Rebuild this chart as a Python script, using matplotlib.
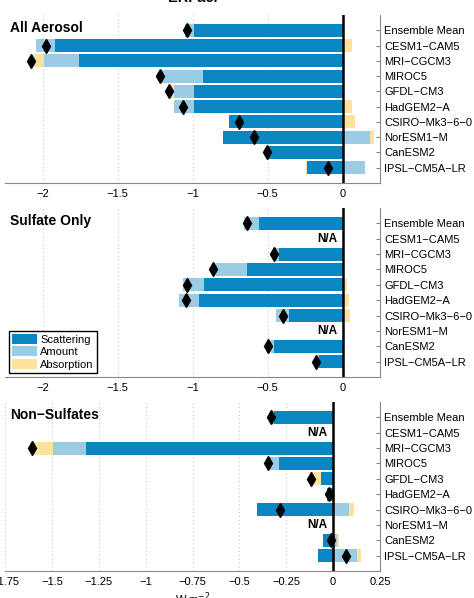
import numpy as np
import matplotlib
matplotlib.use("Agg")
import matplotlib.pyplot as plt
from matplotlib.patches import Patch

plt.rcParams['font.family'] = ['Liberation Sans', 'DejaVu Sans']

models = ['Ensemble Mean', 'CESM1−CAM5', 'MRI−CGCM3', 'MIROC5', 'GFDL−CM3',
          'HadGEM2−A', 'CSIRO−Mk3−6−0', 'NorESM1−M', 'CanESM2', 'IPSL−CM5A−LR']
components = ['Scattering', 'Amount', 'Absorption']
nan = np.nan

# All Aerosol
all_scat = [-0.99, -1.92, -1.76, -0.93, -0.99, -0.99, -0.76, -0.80, -0.505, -0.235]
all_amt = [-0.06, -0.12, -0.23, -0.28, -0.13, -0.13, 0.0, 0.18, 0.0, 0.148]
all_abs = [0.01, 0.064, -0.066, -0.01, -0.026, 0.06, 0.08, 0.03, 0.01, -0.01]
all_tot = [-1.04, -1.975, -2.08, -1.22, -1.155, -1.065, -0.69, -0.59, -0.505, -0.095]

# Sulfate Only
sul_scat = [-0.56, nan, -0.423, -0.638, -0.921, -0.959, -0.354, nan, -0.456, -0.155]
sul_amt = [-0.10, nan, -0.038, -0.204, -0.142, -0.128, -0.089, nan, -0.02, -0.01]
sul_abs = [0.015, nan, 0.01, -0.011, 0.027, 0.044, 0.049, nan, -0.015, -0.01]
sul_tot = [-0.638, nan, -0.456, -0.866, -1.04, -1.045, -0.399, nan, -0.494, -0.177]

# Non-Sulfates
non_scat = [-0.315, nan, -1.32, -0.287, -0.066, -0.035, -0.404, nan, -0.052, -0.082]
non_amt = [-0.015, nan, -0.175, -0.068, 0.0, 0.0, 0.083, nan, 0.021, 0.126]
non_abs = [0.005, nan, -0.113, 0.005, -0.06, 0.012, 0.03, nan, 0.009, 0.023]
non_tot = [-0.329, nan, -1.605, -0.35, -0.119, -0.022, -0.285, nan, -0.014, 0.07]

panel_titles = ['All Aerosol', 'Sulfate Only', 'Non−Sulfates']
ticks_12 = [-2, -1.5, -1, -0.5, 0]
ticklabels_12 = ['−2', '−1.5', '−1', '−0.5', '0']
ticks_3 = [-1.75, -1.5, -1.25, -1, -0.75, -0.5, -0.25, 0, 0.25]
ticklabels_3 = ['−1.75', '−1.5', '−1.25', '−1', '−0.75', '−0.5', '−0.25', '0', '0.25']

colors = ['#0A87C3', '#9CCBE4', '#FDE29E']

fig = plt.figure(figsize=(4.74, 5.98), dpi=100)
L, R = 5 / 474, 380 / 474
boxes = [(15, 183), (208, 377), (402, 571)]
axes = []
for (t, b) in boxes:
    axes.append(fig.add_axes([L, 1 - b / 598, R - L, (b - t) / 598]))

panels = [
    (all_scat, all_amt, all_abs, all_tot, (-2.25, 0.25), ticks_12, ticklabels_12),
    (sul_scat, sul_amt, sul_abs, sul_tot, (-2.25, 0.25), ticks_12, ticklabels_12),
    (non_scat, non_amt, non_abs, non_tot, (-1.75, 0.25), ticks_3, ticklabels_3),
]

FS = 8
y = np.arange(1, len(models) + 1)
for i, (ax, p) in enumerate(zip(axes, panels)):
    scat, amt, ab, tot, xl, ticks, tlabels = p
    comps = [np.array(scat, float), np.array(amt, float), np.array(ab, float)]
    ax.set_xlim(*xl)
    ax.set_ylim(11, 0)
    for xt in ticks:
        ax.axvline(xt, color='#c8c8c8', lw=0.8, ls=(0, (1, 2.5)), zorder=0)
    pos = np.zeros(len(models))
    neg = np.zeros(len(models))
    for c, col in zip(comps, colors):
        v = np.nan_to_num(c)
        isneg = v < 0
        left = np.where(isneg, neg, pos)
        ax.barh(y, v, left=left, height=0.84, color=col, edgecolor='none', zorder=2)
        neg = neg + np.where(isneg, v, 0)
        pos = pos + np.where(isneg, 0, v)
    ax.axvline(0, color='black', lw=1.8, zorder=3)
    ax.plot(np.array(tot, float), y, 'd', color='black', ms=7.5, zorder=4)
    for j in range(len(models)):
        if np.isnan(comps[0][j]):
            ax.annotate('N/A', (0, y[j]), xytext=(-4, 0), textcoords='offset points',
                        ha='right', va='center', fontsize=8.5, fontweight='bold')
    ax.set_yticks(y)
    ax.set_yticklabels(models)
    ax.yaxis.tick_right()
    ax.set_xticks(ticks)
    ax.set_xticklabels(tlabels)
    ax.tick_params(axis='y', direction='in', length=3, pad=3, labelsize=FS, color='#888888')
    ax.tick_params(axis='x', direction='in', length=0, pad=4, labelsize=FS)
    for s in ['top', 'left']:
        ax.spines[s].set_visible(False)
    for s in ['right', 'bottom']:
        ax.spines[s].set_color('#888888')
        ax.spines[s].set_linewidth(0.8)
    ax.text(0.013, 0.965, panel_titles[i], transform=ax.transAxes, ha='left', va='top',
            fontsize=10, fontweight='bold')

axes[0].set_title('ERFaci', fontsize=10.5, fontweight='bold', pad=9)
axes[2].set_xlabel('W m$^{-2}$', fontsize=FS, labelpad=3)

handles = [Patch(facecolor=c, edgecolor='none') for c in colors]
axes[1].legend(handles, components, loc='lower left', bbox_to_anchor=(0.011, 0.024),
               borderaxespad=0, fontsize=FS, frameon=True, fancybox=False,
               edgecolor='black', framealpha=1, handlelength=2.2, handleheight=1.0,
               labelspacing=0.15, handletextpad=0.3, borderpad=0.3)

fig.savefig('out.png', dpi=100)
